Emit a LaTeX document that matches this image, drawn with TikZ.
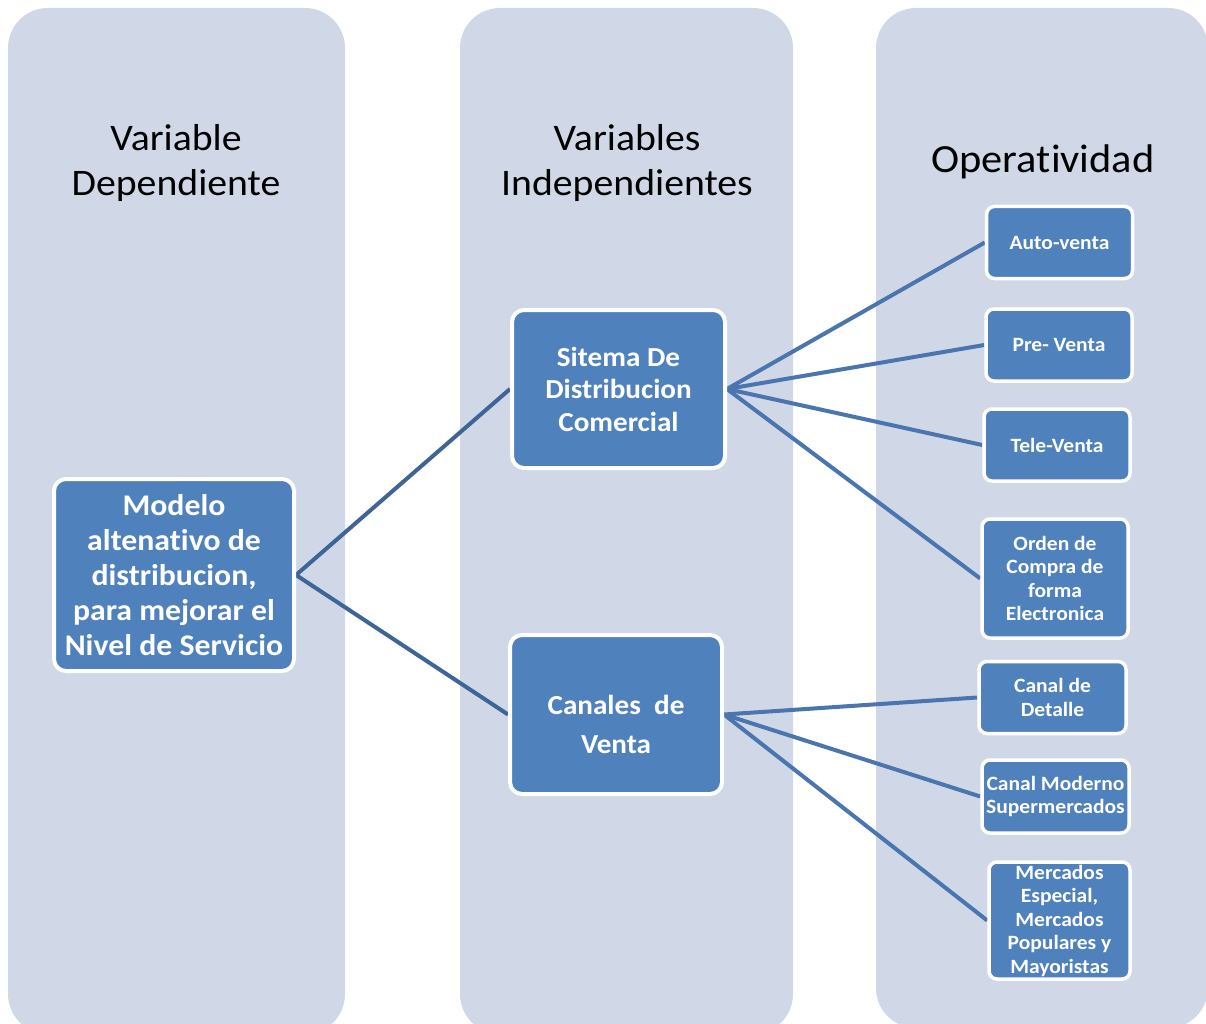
\documentclass[tikz,border=0pt]{standalone}
\usepackage{fontspec}
\setmainfont{Carlito}[FakeStretch=1.06,RawFeature={-liga}]
\pgfdeclarelayer{bg}
\pgfdeclarelayer{lines}
\pgfsetlayers{bg,lines,main}
\begin{document}
\begin{tikzpicture}[x=1pt,y=-1pt,
  panel/.style={fill=panelc,draw=none,rounded corners=40pt},
  head/.style={align=center,inner sep=0pt,font=\fontsize{37.5}{45}\selectfont},
  bigbox/.style={draw=white,line width=4pt,fill=boxc,rounded corners=12pt,text=white,align=center,inner sep=0pt},
  boxtext/.style={text=white,align=center,inner sep=0pt},
  smallbox/.style={draw=white,line width=3.5pt,fill=boxc,rounded corners=8pt,text=white,align=center,inner sep=0pt,font=\bfseries\fontsize{20.3}{23.5}\selectfont},
  linkA/.style={draw=lineA,line width=4pt},
  linkB/.style={draw=lineB,line width=4pt}]
\definecolor{panelc}{HTML}{D0D8E8}
\definecolor{boxc}{HTML}{4F81BD}
\definecolor{lineA}{HTML}{3F6496}
\definecolor{lineB}{HTML}{4A75AE}
\useasboundingbox (0,0) rectangle (1206,1024);
\clip (0,0) rectangle (1206,1024);
\begin{pgfonlayer}{bg}
\fill[white] (0,0) rectangle (1206,1024);
\path[panel] (8,8) rectangle (345,1034);
\path[panel] (460,8) rectangle (793,1034);
\path[panel] (876,8) rectangle (1208,1028);
\end{pgfonlayer}
% headings
\node[head] (h1) at (176,163) {Variable\\Dependiente};
\node[head] (h2) at (627,163) {Variables\\Independientes};
\node[head,font=\fontsize{40}{48}\selectfont] (h3) at (1043,162) {Operatividad};
% boxes
\node[bigbox,minimum width=240pt,minimum height=192pt,font=\bfseries\fontsize{30}{35}\selectfont] (modelo) at (174,575)
  {Modelo\\altenativo de\\distribucion,\\para mejorar el\\Nivel de Servicio};
\node[bigbox,minimum width=213pt,minimum height=158pt,font=\bfseries\fontsize{27.5}{32.5}\selectfont] (sitema) at (618.5,389)
  {Sitema De\\Distribucion\\Comercial};
\node[bigbox,minimum width=212pt,minimum height=159pt] (canales) at (616,714.5) {};
\node[boxtext,font=\bfseries\fontsize{27.5}{39}\selectfont] (canalesT) at ([yshift=-10pt]canales.center)
  {Canales\ \ de\\Venta};
\node[smallbox,minimum width=146pt,minimum height=72pt] (auto) at (1059.5,242.5) {Auto-venta};
\node[smallbox,minimum width=146pt,minimum height=72pt] (pre) at (1059,345) {Pre- Venta};
\node[smallbox,minimum width=146pt,minimum height=72pt] (tele) at (1057,445) {Tele-Venta};
\node[smallbox,minimum width=146pt,minimum height=119pt] (orden) at (1055,578.5) {Orden de\\Compra de\\forma\\Electronica};
\node[smallbox,minimum width=147pt,minimum height=72pt] (detalle) at (1052.5,697.5) {Canal de\\Detalle};
\node[smallbox,minimum width=147pt,minimum height=73pt] (moderno) at (1055.5,796.5) {Canal Moderno\\Supermercados};
\node[smallbox,minimum width=141pt,minimum height=117pt] (mercados) at (1059.5,920.5) {Mercados\\Especial,\\Mercados\\Populares y\\Mayoristas};
% connectors
\begin{pgfonlayer}{lines}
\draw[linkA] (modelo.east) -- (sitema.west);
\draw[linkA] (modelo.east) -- (canales.west);
\draw[linkB] (sitema.east) -- (auto.west);
\draw[linkB] (sitema.east) -- (pre.west);
\draw[linkB] (sitema.east) -- (tele.west);
\draw[linkB] (sitema.east) -- (orden.west);
\draw[linkB] (canales.east) -- (detalle.west);
\draw[linkB] (canales.east) -- (moderno.west);
\draw[linkB] (canales.east) -- (mercados.west);
\end{pgfonlayer}
\end{tikzpicture}
\end{document}
